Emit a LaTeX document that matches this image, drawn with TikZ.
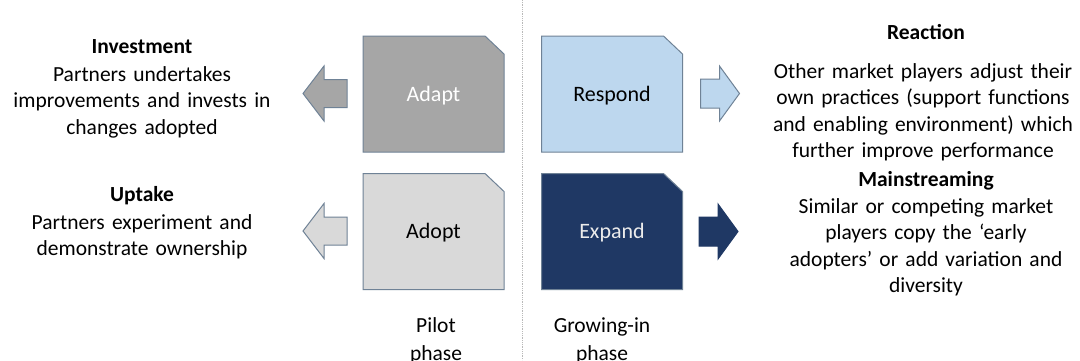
\documentclass[tikz,border=0pt]{standalone}
\usepackage{fontspec}
\setmainfont{Carlito}
\definecolor{edgec}{HTML}{6F8296}
\definecolor{adaptc}{HTML}{A6A6A6}
\definecolor{adoptc}{HTML}{D9D9D9}
\definecolor{respc}{HTML}{BDD7EE}
\definecolor{expc}{HTML}{1F3864}
\begin{document}
\begin{tikzpicture}[x=1pt,y=-1pt,
  boxline/.style={draw=edgec,line width=1pt},
  boxlabel/.style={font=\fontsize{22}{26}\selectfont,inner sep=0pt},
  bodytext/.style={font=\fontsize{21.5}{26.5}\selectfont,align=center,text width=340pt,inner sep=0pt,anchor=base},
  phasetext/.style={font=\fontsize{21.5}{28}\selectfont,align=center,text width=200pt,inner sep=0pt,anchor=base},
  titletext/.style={font=\fontsize{21.5}{26.5}\selectfont\bfseries,inner sep=0pt,anchor=base},
  divider/.style={draw=gray!55,line width=0.8pt,densely dotted},
  cutbox/.pic={\path[pic actions] (-70.5,-58) -- (51.5,-58) -- (70.5,-40) -- (70.5,58) -- (-70.5,58) -- cycle;},
  rarrow/.pic={\path[pic actions] (-20,-14.5) -- (-1,-14.5) -- (-1,-27.5) -- (19,0) -- (-1,27.5) -- (-1,14.5) -- (-20,14.5) -- cycle;},
  larrow/.pic={\path[pic actions] (22,-14) -- (-1,-14) -- (-1,-27.5) -- (-22,0) -- (-1,27.5) -- (-1,14) -- (22,14) -- cycle;}
]
\useasboundingbox (0,0) rectangle (1080,360);
\fill[white] (0,0) rectangle (1080,360);
% divider
\coordinate (dtop) at (522,0);
\coordinate (dbot) at (522,360);
\draw[divider] (dtop) -- (dbot);
% boxes
\pic[boxline,fill=adaptc] at (433.5,94) {cutbox};
\node[boxlabel,text=white] (adapt) at (433.5,96) {Adapt};
\pic[boxline,fill=respc] at (612,94) {cutbox};
\node[boxlabel] (respond) at (612,96) {Respond};
\pic[boxline,fill=adoptc] at (433.5,231.5) {cutbox};
\node[boxlabel] (adopt) at (433.5,233) {Adopt};
\pic[boxline,fill=expc] at (612,231.5) {cutbox};
\node[boxlabel,text=white!92!black] (expand) at (612,233) {Expand};
% arrows
\pic[boxline,fill=adaptc] at (325,93.5) {larrow};
\pic[boxline,fill=adoptc] at (325,231) {larrow};
\pic[boxline,fill=respc] at (720.5,93.5) {rarrow};
\pic[boxline,draw=expc,fill=expc] at (719,231.5) {rarrow};
% left texts
\node[titletext] (inv) at (142,53) {Investment};
\node[bodytext] (invb) at (142,81) {Partners undertakes\\improvements and invests in\\changes adopted};
\node[titletext] (upt) at (142,201) {Uptake};
\node[bodytext] (uptb) at (142,229) {Partners experiment and\\demonstrate ownership};
% right texts
\node[titletext] (rea) at (926,39) {Reaction};
\node[bodytext] (reab) at (923,78) {Other market players adjust their\\own practices (support functions\\and enabling environment) which\\further improve performance};
\node[titletext] (mai) at (926,186) {Mainstreaming};
\node[bodytext] (maib) at (926,213) {Similar or competing market\\players copy the ‘early\\adopters’ or add variation and\\diversity};
% phase labels
\node[phasetext] (pilot) at (436,332) {Pilot\\phase};
\node[phasetext] (grow) at (602,332) {Growing-in\\phase};
\end{tikzpicture}
\end{document}
